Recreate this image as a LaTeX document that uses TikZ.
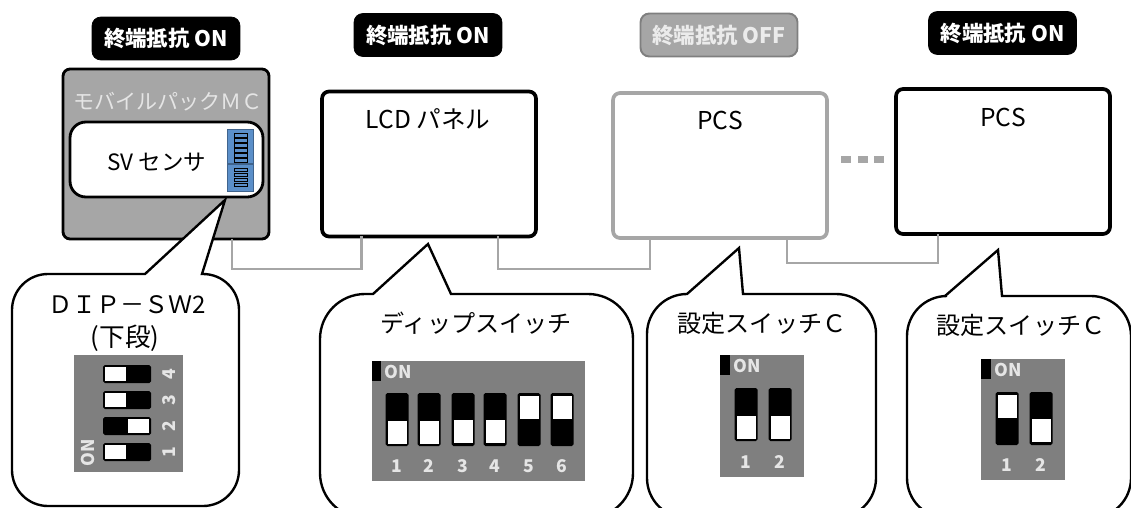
\documentclass[tikz,border=0pt]{standalone}
\usepackage{fontspec}
\setmainfont{Noto Sans CJK JP}
\definecolor{midgray}{HTML}{A6A6A6}
\definecolor{dipgray}{HTML}{7F7F7F}
\definecolor{dipblue}{HTML}{5B8FC9}
\tikzset{
  badge/.style={fill=black,draw=black,rounded corners=5pt,inner sep=0pt,outer sep=0pt,text=white,font=\fontsize{12.2}{14}\selectfont\bfseries,minimum width=2.96cm,minimum height=0.86cm},
  unit/.style={fill=white,draw=black,line width=2.1pt,rounded corners=4pt,inner sep=0pt,outer sep=0pt,minimum width=4.28cm,minimum height=2.9cm},
  wire/.style={draw=midgray,line width=1.2pt},
  balloon/.style={draw=black,fill=white,line width=1.35pt},
  lbl/.style={inner sep=0pt,font=\fontsize{14}{16}\selectfont},
  bigl/.style={inner sep=0pt,font=\fontsize{13.7}{16}\selectfont},
  dipnum/.style={inner sep=0pt,text=white!90!black,font=\fontsize{10}{11}\selectfont\bfseries}
}
\begin{document}
\begin{tikzpicture}[x=0.02cm,y=-0.02cm]
\useasboundingbox (0,0) rectangle (1131,507);
\clip (0,0) rectangle (1131,507);
% badges
\node[badge] (bdgmc) at (166,38.5) {終端抵抗 ON};
\node[badge] (bdglcd) at (428,35) {終端抵抗 ON};
\node[badge,fill=midgray,draw=dipgray,line width=1.1pt,minimum width=3.14cm,text=white!92!black] (bdgoff) at (719,35) {終端抵抗 OFF};
\node[badge] (bdgpcs) at (1002.5,33) {終端抵抗 ON};
% units
\node[unit,fill=midgray,minimum width=4.12cm,minimum height=3.4cm,line width=1.6pt] (mc) at (166,154) {};
\node[lbl,font=\fontsize{12}{14}\selectfont,text=white!90!black] (mclbl) at (168,102) {モバイルパックＭＣ};
\node[unit,minimum width=3.86cm,minimum height=1.5cm,rounded corners=9pt,line width=1.6pt] (sv) at (166.5,159.5) {};
\node[lbl,font=\fontsize{12.8}{14}\selectfont] (svlbl) at (157,162) {SV センサ};
\node[unit] (lcd) at (429,164) {};
\node[lbl] (lcdlbl) at (428,119) {LCD パネル};
\node[unit,draw=midgray] (pcsa) at (720,165.5) {};
\node[lbl] (pcsalbl) at (720,120) {PCS};
\node[unit] (pcsb) at (1003,161.5) {};
\node[lbl] (pcsblbl) at (1003,117) {PCS};
% sensor dip switch
\fill[dipblue,draw=dipblue!70!black,line width=0.4pt] (227,129) rectangle (253,191);
\draw[dipblue!70!black,line width=0.6pt] (227,164) -- (253,164);
\foreach \ry in {133.5,138.5,...,159} \draw[black,line width=0.5pt] (234,\ry) rectangle (247,\ry+3.5);
\foreach \ry in {168,173,...,184} \draw[black,line width=0.5pt] (234,\ry) rectangle (247,\ry+3.5);
% wires
\coordinate (wa) at (232,269);
\coordinate (wb) at (361.5,269);
\coordinate (wc) at (498,269);
\coordinate (wd) at (650,269);
\coordinate (we) at (787,263);
\coordinate (wf) at (938,263);
\draw[wire] (mc.south -| wa) -- (wa) -- (wb) -- (lcd.south -| wb);
\draw[wire] (lcd.south -| wc) -- (wc) -- (wd) -- (pcsa.south -| wd);
\draw[wire] (pcsa.south -| we) -- (we) -- (wf) -- (pcsb.south -| wf);
\foreach \dx in {841,857.5,874} \fill[midgray] (\dx,156) rectangle (\dx+10,163);
% balloons
\draw[balloon] (202,274) [rounded corners=0.72cm] -- (239,274) -- (239,506) -- (12,506) -- (12,274) [sharp corners] -- (145,274) -- (225,200) -- cycle;
\draw[balloon] (451,294) [rounded corners=0.9cm] -- (633,294) -- (633,518) -- (320,518) -- (320,294) [sharp corners] -- (373,294) -- (428,244) -- cycle;
\draw[balloon] (743,294) [rounded corners=0.8cm] -- (876,294) -- (876,518) -- (647,518) -- (647,294) [sharp corners] -- (687,294) -- (739,248) -- cycle;
\draw[balloon] (1002,296) [rounded corners=0.8cm] -- (1131,296) -- (1131,518) -- (907,518) -- (907,296) [sharp corners] -- (945,296) -- (998,250) -- cycle;
\node[bigl] (dsw) at (127,305) {ＤＩＰ－ＳＷ2};
\node[bigl,font=\fontsize{14.6}{16}\selectfont] (dswsub) at (125,338) {(下段)};
\node[bigl] (diplbl) at (476,323) {ディップスイッチ};
\node[bigl] (cswa) at (762,323) {設定スイッチＣ};
\node[bigl] (cswb) at (1021,325) {設定スイッチＣ};
% sideways panel
\fill[dipgray] (74,355) rectangle (183,472);
\node[dipnum,rotate=90] (onv) at (88,453) {ON};
\foreach \ry/\n/\wl in {365/4/105,391/3/105,417/2/128,443/1/105} {
  \fill[black,rounded corners=1pt] (103,\ry) rectangle (151,\ry+18);
  \fill[white] (\wl,\ry+2) rectangle (\wl+21,\ry+16);
  \node[dipnum,rotate=90] (sn\n) at (169,\ry+9) {\n};
}
% dip switch panel
\fill[dipgray] (372,361) rectangle (585,481);
\fill[black] (372,361) rectangle (381,381);
\node[dipnum] (ona) at (398,372) {ON};
\foreach \sx/\n/\wt in {397/1/421,429/2/421,463/3/420,495/4/420,529/5/396,562/6/396} {
  \fill[black,rounded corners=1pt] (\sx-11.5,393) rectangle (\sx+11.5,446);
  \fill[white] (\sx-9.5,\wt) rectangle (\sx+9.5,\wt+23);
  \node[dipnum] (an\n) at (\sx,466) {\n};
}
% left switch C
\fill[dipgray] (720,355) rectangle (804,477);
\fill[black] (720,355) rectangle (730,375);
\node[dipnum] (onb) at (747,366) {ON};
\foreach \sx/\n/\wt in {746/1/416,780/2/416} {
  \fill[black,rounded corners=1pt] (\sx-11.5,388) rectangle (\sx+11.5,441);
  \fill[white] (\sx-9.5,\wt) rectangle (\sx+9.5,\wt+23);
  \node[dipnum] (bn\n) at (\sx,462) {\n};
}
% right switch C
\fill[dipgray] (981,359) rectangle (1065,480);
\fill[black] (981,359) rectangle (991,379);
\node[dipnum] (onc) at (1008,370) {ON};
\foreach \sx/\n/\wt in {1007/1/395,1041/2/419} {
  \fill[black,rounded corners=1pt] (\sx-11.5,392) rectangle (\sx+11.5,445);
  \fill[white] (\sx-9.5,\wt) rectangle (\sx+9.5,\wt+23);
  \node[dipnum] (cn\n) at (\sx,465) {\n};
}
\end{tikzpicture}
\end{document}
